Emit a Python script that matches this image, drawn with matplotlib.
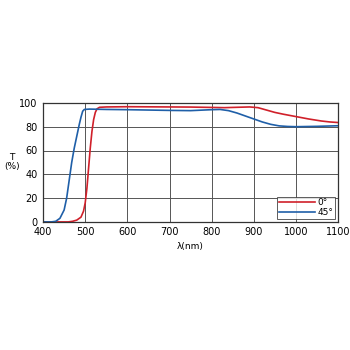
import matplotlib.pyplot as plt

# transmittance curves
wl_0 = [400, 460, 470, 480, 490, 496, 500, 504, 508, 512, 516, 520, 524, 528, 534,
        550, 600, 650, 700, 750, 800, 830, 860, 890, 910, 930, 950, 970, 1000,
        1030, 1060, 1080, 1100]
t_0 = [0, 0, 0.5, 1.5, 4, 9, 16, 28, 45, 62, 76, 86, 92, 95, 96.3,
       96.6, 96.8, 96.7, 96.6, 96.5, 96.2, 96, 96.3, 96.6, 96, 94, 92, 90.5, 88.5,
       86.5, 84.8, 84, 83.5]

wl_45 = [400, 420, 430, 440, 450, 456, 462, 468, 474, 480, 486, 490, 494, 498,
         510, 550, 600, 650, 700, 750, 800, 820, 840, 860, 880, 900, 920, 940,
         960, 980, 1000, 1050, 1100]
t_45 = [0, 0, 0.5, 3, 10, 20, 35, 50, 62, 72, 82, 88, 93, 94.5,
        94.8, 94.5, 94.3, 94, 93.7, 93.5, 94.3, 94.5, 93.5, 91.5, 89, 86.5, 84, 82,
        80.7, 80.2, 80, 80.3, 80.8]

x_ticks = [400, 500, 600, 700, 800, 900, 1000, 1100]
y_ticks = [0, 20, 40, 60, 80, 100]

fig = plt.figure(figsize=(3.5, 3.5), dpi=100)
ax = fig.add_axes([0.123, 0.366, 0.843, 0.34])

ax.plot(wl_0, t_0, color='#d0202a', lw=1.2, label='0°')
ax.plot(wl_45, t_45, color='#1f5fa8', lw=1.2, label='45°')

ax.set_xlim(400, 1100)
ax.set_ylim(0, 100)
ax.set_xticks(x_ticks)
ax.set_yticks(y_ticks)
ax.tick_params(length=0, labelsize=7, pad=4)
ax.grid(True, color='#555555', lw=0.7)
for s in ax.spines.values():
    s.set_color('#333333')
    s.set_linewidth(0.9)

ax.set_xlabel('λ(nm)', fontsize=6.5, labelpad=3)
fig.text(12 / 350, 1 - 162 / 350, 'T\n(%)', fontsize=6.5, ha='center', va='center',
         linespacing=1.0)

leg = ax.legend(loc='lower right', fontsize=6.5, frameon=True, fancybox=False,
                handlelength=4, borderpad=0.2, labelspacing=0.1, handletextpad=0.3,
                borderaxespad=0.3)
leg.get_frame().set_edgecolor('#333333')
leg.get_frame().set_linewidth(0.7)

fig.savefig('out.png', dpi=100)
